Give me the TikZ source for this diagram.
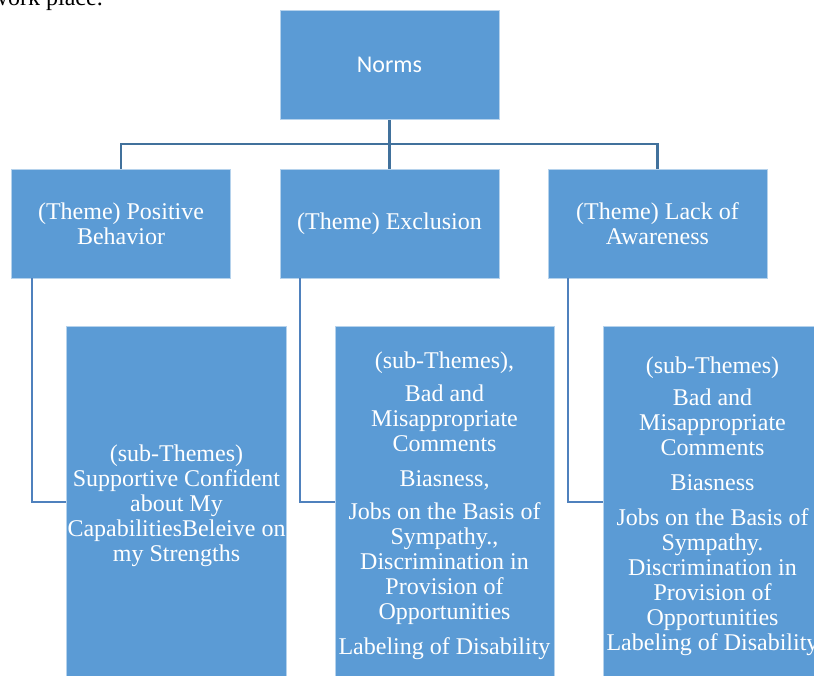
\documentclass[tikz,border=0pt]{standalone}
\usepackage{fontspec}
\setmainfont{Liberation Serif}
\newfontfamily\normsfont{Carlito}
\usetikzlibrary{calc}
\definecolor{boxblue}{HTML}{5B9BD5}
\definecolor{linkblue}{HTML}{41719C}
\definecolor{elbowblue}{HTML}{4F81BD}
\tikzset{
  themebox/.style={fill=boxblue, draw=white!55!boxblue, line width=0.6pt, text=white,
    minimum width=219pt, minimum height=109pt, align=center, inner sep=1pt,
    font=\fontsize{24}{25}\selectfont},
  subbox/.style={themebox, minimum height=360pt},
  link/.style={linkblue, line width=2.2pt},
  elbow/.style={elbowblue, line width=1.6pt}
}

\begin{document}
\begin{tikzpicture}[x=1pt,y=-1pt]

  \useasboundingbox (0,0) rectangle (814,675);

  % page text above the chart
  \node[anchor=base east, inner sep=0pt, font=\fontsize{24}{25}\selectfont] (pagetext) at (103,5) {work place.};

  \node[themebox, font=\normsfont\fontsize{24}{25}\selectfont] (norms) at (389.5,65) {Norms};

  \node[themebox] (t1) at (121,223.5) {(Theme) Positive\\Behavior};
  \node[themebox] (t2) at (389.5,223.5) {(Theme) Exclusion};
  \node[themebox] (t3) at (657.5,223.5) {(Theme) Lack of\\Awareness};

  \node[subbox] (s1) at (176.5,506) {(sub-Themes)\\Supportive Confident\\about My\\CapabilitiesBeleive on\\my Strengths};
  \node[subbox] (s2) at (444.5,506) {(sub-Themes),\\[8pt]Bad and\\Misappropriate\\Comments\\[10pt]Biasness,\\[8pt]Jobs on the Basis of\\Sympathy.,\\Discrimination in\\Provision of\\Opportunities\\[10pt]Labeling of Disability};
  \node[subbox] (s3) at (712.5,506) {(sub-Themes)\\[7pt]Bad and\\Misappropriate\\Comments\\[10pt]Biasness\\[10pt]Jobs on the Basis of\\Sympathy.\\Discrimination in\\Provision of\\Opportunities\\Labeling of Disability};

  % norms to themes
  \coordinate (hub) at ($(norms.south)!0.5!(t2.north)$);
  \draw[link] (norms.south) -- (t2.north);
  \draw[link] (hub) -| (t1.north);
  \draw[link] (hub) -| (t3.north);

  % themes to sub-themes
  \draw[elbow] ([xshift=21pt]t1.south west) |- ([yshift=4pt]s1.west);
  \draw[elbow] ([xshift=20pt]t2.south west) |- ([yshift=4pt]s2.west);
  \draw[elbow] ([xshift=20pt]t3.south west) |- ([yshift=4pt]s3.west);

\end{tikzpicture}
\end{document}
